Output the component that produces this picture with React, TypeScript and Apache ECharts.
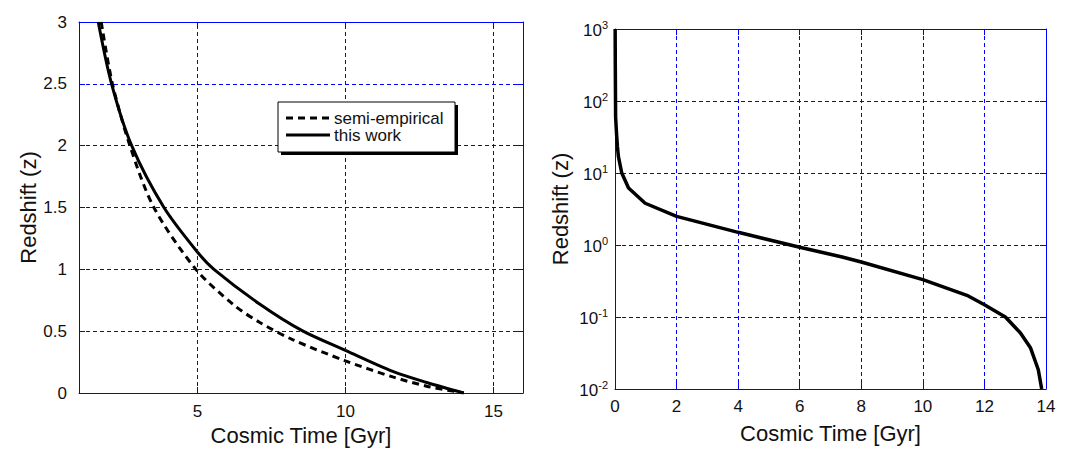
import React, { useEffect, useRef } from "react";
import * as echarts from "echarts";

// Left panel: redshift vs cosmic time (linear)
const solidTime = [1.65, 2.1, 2.78, 3.87, 5.0, 5.56, 7.1, 8.57, 10, 11.6, 12.75, 14];
const solidZ = [3, 2.5, 2.0, 1.5, 1.14, 1.0, 0.72, 0.5, 0.345, 0.175, 0.085, 0];
const dashTime = [1.75, 2.13, 2.72, 3.53, 4.95, 6.24, 7.11, 8.23, 10, 11.6, 12.75, 14];
const dashZ = [3, 2.5, 2.0, 1.5, 1.0, 0.71, 0.57, 0.43, 0.26, 0.13, 0.055, 0];
const leftXTicks = [5, 10, 15];

// Right panel: redshift vs cosmic time (log)
const logTime = [0.005, 0.01, 0.02, 0.05, 0.08, 0.11, 0.22, 0.44, 0.98, 2, 4, 6, 7.38, 8, 10, 11.43, 12, 12.68, 13.17, 13.5, 13.75, 13.86];
const logZ = [1000, 300, 60, 35, 23, 17, 10, 6.2, 3.8, 2.5, 1.5, 0.93, 0.68, 0.58, 0.33, 0.2, 0.148, 0.1, 0.06, 0.037, 0.0185, 0.01];

const seriesNames = ["semi-empirical", "this work"];

const BLUE = "#0000ff";
const FONT = "Arial, 'Liberation Sans', sans-serif";
const GRID_DASH = [4, 3];
const CURVE_DASH = [7, 5];

export default function App() {
  const ref = useRef<HTMLDivElement>(null);
  useEffect(() => {
    if (!ref.current) return;
    const chart = echarts.init(ref.current, null, { renderer: "svg" });
    const zip = (a: number[], b: number[]) => a.map((v, i) => [v, b[i]]);
    const axisLine = { show: true, onZero: false, lineStyle: { color: BLUE, width: 1 } };
    const tick = (show = true) => ({ show, inside: true, length: 6, lineStyle: { color: BLUE } });
    const label = { color: "#111", fontSize: 17, fontFamily: FONT };
    const splitLine = { show: true, lineStyle: { color: BLUE, type: GRID_DASH, width: 1 } };
    const nameStyle = { color: "#111", fontSize: 22, fontFamily: FONT };

    const LX = 278, LY = 102, LW = 177, LH = 50;
    const legendGraphic = [
      { type: "rect", shape: { x: LX + 3, y: LY + 3, width: LW, height: LH }, style: { fill: "#000" }, z: 100 },
      { type: "rect", shape: { x: LX, y: LY, width: LW, height: LH }, style: { fill: "#fff", stroke: "#000", lineWidth: 1 }, z: 101 },
      { type: "line", shape: { x1: 286, y1: 118, x2: 330, y2: 118 }, style: { stroke: "#000", lineWidth: 3, lineDash: CURVE_DASH }, z: 102 },
      { type: "line", shape: { x1: 286, y1: 135, x2: 330, y2: 135 }, style: { stroke: "#000", lineWidth: 3 }, z: 102 },
      { type: "text", x: 334, y: 118, style: { text: seriesNames[0], fill: "#111", font: `17px ${FONT}`, verticalAlign: "middle" }, z: 102 },
      { type: "text", x: 334, y: 135, style: { text: seriesNames[1], fill: "#111", font: `17px ${FONT}`, verticalAlign: "middle" }, z: 102 },
    ];

    chart.setOption({
      animation: false,
      backgroundColor: "#fff",
      textStyle: { fontFamily: FONT },
      grid: [
        { left: 79, top: 22, width: 444, height: 371, show: false },
        { left: 615, top: 29, width: 431, height: 360, show: false },
      ],
      graphic: legendGraphic,
      xAxis: [
        {
          type: "value", gridIndex: 0, min: 1, max: 16,
          axisLine, axisTick: { ...tick(), customValues: leftXTicks },
          axisLabel: { ...label, margin: 10, customValues: leftXTicks },
          splitLine: { show: false },
          name: "Cosmic Time [Gyr]", nameLocation: "middle", nameGap: 29, nameTextStyle: nameStyle,
        },
        {
          type: "value", gridIndex: 0, min: 1, max: 16, position: "top",
          axisLine, axisTick: { ...tick(), customValues: leftXTicks },
          axisLabel: { show: false, customValues: leftXTicks }, splitLine: { show: false },
        },
        {
          type: "value", gridIndex: 1, min: 0, max: 14, interval: 2,
          axisLine, axisTick: tick(), axisLabel: { ...label, margin: 9 },
          splitLine,
          name: "Cosmic Time [Gyr]", nameLocation: "middle", nameGap: 33, nameTextStyle: nameStyle,
        },
        {
          type: "value", gridIndex: 1, min: 0, max: 14, interval: 2, position: "top",
          axisLine, axisTick: tick(), axisLabel: { show: false }, splitLine: { show: false },
        },
      ],
      yAxis: [
        {
          type: "value", gridIndex: 0, min: 0, max: 3, interval: 0.5,
          axisLine, axisTick: tick(), axisLabel: { ...label, margin: 12 },
          splitLine,
          name: "Redshift (z)", nameLocation: "middle", nameGap: 40, nameTextStyle: nameStyle,
        },
        {
          type: "value", gridIndex: 0, min: 0, max: 3, interval: 0.5, position: "right",
          axisLine, axisTick: tick(), axisLabel: { show: false }, splitLine: { show: false },
        },
        {
          type: "log", gridIndex: 1, min: 0.01, max: 1000, logBase: 10,
          axisLine, axisTick: tick(), minorTick: { show: false },
          axisLabel: {
            ...label, margin: 7,
            formatter: (v: number) => `{b|10}{s|${Math.round(Math.log10(v))}}`,
            rich: {
              b: { fontSize: 17, fontFamily: FONT, color: "#111", verticalAlign: "bottom", lineHeight: 20 },
              s: { fontSize: 11, fontFamily: FONT, color: "#111", verticalAlign: "top", lineHeight: 20, padding: [0, 0, 8, 0] },
            },
          },
          splitLine,
          name: "Redshift (z)", nameLocation: "middle", nameGap: 44, nameTextStyle: nameStyle,
        },
        {
          type: "log", gridIndex: 1, min: 0.01, max: 1000, logBase: 10, position: "right",
          axisLine, axisTick: tick(), axisLabel: { show: false }, splitLine: { show: false },
        },
      ],
      series: [
        {
          name: seriesNames[0], type: "line", xAxisIndex: 0, yAxisIndex: 0,
          data: zip(dashTime, dashZ), showSymbol: false, symbol: "none",
          smooth: 0.3,
          lineStyle: { color: "#000", width: 3, type: CURVE_DASH },
          itemStyle: { color: "#000" },
        },
        {
          name: seriesNames[1], type: "line", xAxisIndex: 0, yAxisIndex: 0,
          data: zip(solidTime, solidZ), showSymbol: false, symbol: "none",
          smooth: 0.3,
          lineStyle: { color: "#000", width: 3, type: "solid" },
          itemStyle: { color: "#000" },
          markLine: {
            silent: true, symbol: "none", label: { show: false },
            lineStyle: { color: BLUE, type: GRID_DASH, width: 1 },
            data: leftXTicks.map((v) => ({ xAxis: v })),
          },
        },
        {
          name: "log", type: "line", xAxisIndex: 2, yAxisIndex: 2,
          data: zip(logTime, logZ), showSymbol: false, symbol: "none",
          lineStyle: { color: "#000", width: 3.5 },
          itemStyle: { color: "#000" },
        },
      ],
    });
    return () => chart.dispose();
  }, []);
  return <div ref={ref} style={{ position: "fixed", left: 0, top: 0, width: 1068, height: 452 }} />;
}
